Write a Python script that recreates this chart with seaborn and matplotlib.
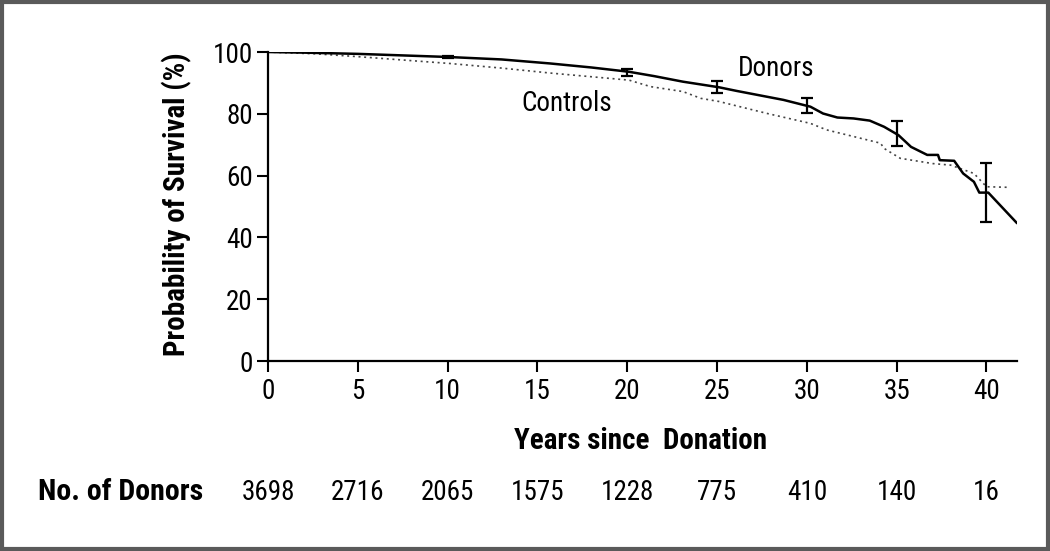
import matplotlib
matplotlib.use("Agg")
import matplotlib.pyplot as plt
import matplotlib.transforms as mtransforms
from matplotlib.patches import Rectangle
import numpy as np
import pandas as pd
import seaborn as sns

sns.set_style("ticks")
plt.rcParams['font.family'] = ['Roboto Condensed', 'Liberation Sans', 'DejaVu Sans']
for key in ["text.color", "axes.labelcolor", "xtick.color", "ytick.color", "axes.edgecolor"]:
    plt.rcParams[key] = "black"

# survival curves (years, %)
donor_years = [0, 2, 5, 8, 10, 13, 15.7, 18, 20.1, 21.5, 23.1, 25.1, 26.1, 28.7, 30.2,
               30.9, 31.7, 32.6, 33.5, 34.3, 35.1, 35.8, 36.7, 37.3, 37.4, 38.2,
               38.7, 39.3, 39.6, 40.1, 41.7]
donor_surv = [100, 99.8, 99.4, 98.8, 98.4, 97.6, 96.3, 95.0, 93.6, 92.2, 90.4, 88.6,
              87.4, 84.5, 82.3, 80.1, 78.8, 78.5, 77.8, 75.8, 73.1, 69.3, 66.7, 66.7,
              65.0, 64.8, 60.7, 58.0, 54.5, 54.5, 44.6]

control_years = [0, 2.7, 5, 8, 10.1, 13, 15.7, 18, 20.1, 21.3, 23.1, 24.1, 25.1, 27.8,
                 30.2, 31.1, 34.1, 34.3, 35.2, 37.0, 38.0, 39.3, 40.0, 41.3]
control_surv = [100, 99.4, 98.5, 97.2, 96.3, 94.8, 93.2, 92.0, 90.9, 88.8, 87.2, 85.0,
                84.0, 80.1, 76.9, 74.8, 70.5, 68.8, 65.6, 63.9, 63.4, 60.7, 56.4, 56.2]

# 95% CI bars on the donor curve
ci_years = [10, 20, 25, 30, 35, 40]
ci_mid = [98.4, 93.5, 88.7, 82.7, 73.6, 54.5]
ci_low = [98.1, 92.3, 86.8, 80.3, 69.6, 45.1]
ci_high = [98.7, 94.4, 90.7, 85.2, 77.7, 64.0]

# numbers at risk
risk_years = [0, 5, 10, 15, 20, 25, 30, 35, 40]
risk_donors = [3698, 2716, 2065, 1575, 1228, 775, 410, 140, 16]

donors = pd.DataFrame({"years": donor_years, "surv": donor_surv})
controls = pd.DataFrame({"years": control_years, "surv": control_surv})

fig = plt.figure(figsize=(10.5, 5.51), dpi=100)
ax = fig.add_axes([0.2552, 0.3448, 0.7134, 0.5608])

sns.lineplot(data=controls, x="years", y="surv", ax=ax, color="#444444",
             linestyle=(0, (1.2, 2.2)), linewidth=1.2, estimator=None, sort=False)
sns.lineplot(data=donors, x="years", y="surv", ax=ax, color="black",
             linewidth=1.8, estimator=None, sort=False)

yerr = [np.array(ci_mid) - np.array(ci_low), np.array(ci_high) - np.array(ci_mid)]
ax.errorbar(ci_years, ci_mid, yerr=yerr, fmt="none", ecolor="black",
            elinewidth=1.6, capsize=4, capthick=1.6)

ax.text(28.3, 94.6, "Donors", fontsize=19.5, ha="center", va="center")
ax.text(16.65, 83.3, "Controls", fontsize=19.5, ha="center", va="center")

ax.set_xlim(0, 41.7)
ax.set_ylim(0, 100)
ax.set_xticks(risk_years)
ax.set_yticks([0, 20, 40, 60, 80, 100])
ax.tick_params(axis="both", direction="out", length=8, width=1.5, labelsize=19.5)
ax.tick_params(axis="x", pad=4)
ax.tick_params(axis="y", pad=3)
ax.spines[["top", "right"]].set_visible(False)
ax.spines[["left", "bottom"]].set_linewidth(1.6)
ax.margins(0)

ax.set_xlabel("Years since  Donation", fontsize=21, fontweight="bold", va="top")
ax.xaxis.set_label_coords(0.498, -0.212)
ax.set_ylabel("Probability of Survival (%)", fontsize=21, fontweight="bold")
ax.yaxis.set_label_coords(-0.101, 0.508)

# numbers at risk row
trans = mtransforms.blended_transform_factory(ax.transData, fig.transFigure)
for yr, n in zip(risk_years, risk_donors):
    ax.text(yr, 1 - 492 / 551, str(n), transform=trans, fontsize=19.5,
            ha="center", va="center", clip_on=False)
fig.text(38 / 1050, 1 - 492 / 551, "No. of Donors", fontsize=21.5,
         fontweight="bold", ha="left", va="center")

# grey frame around the figure
fig.patches.append(Rectangle((0.002, 0.003), 0.996, 0.994, transform=fig.transFigure,
                             fill=False, edgecolor="#5a5a5a", linewidth=3))

fig.savefig("out.png", dpi=100)
